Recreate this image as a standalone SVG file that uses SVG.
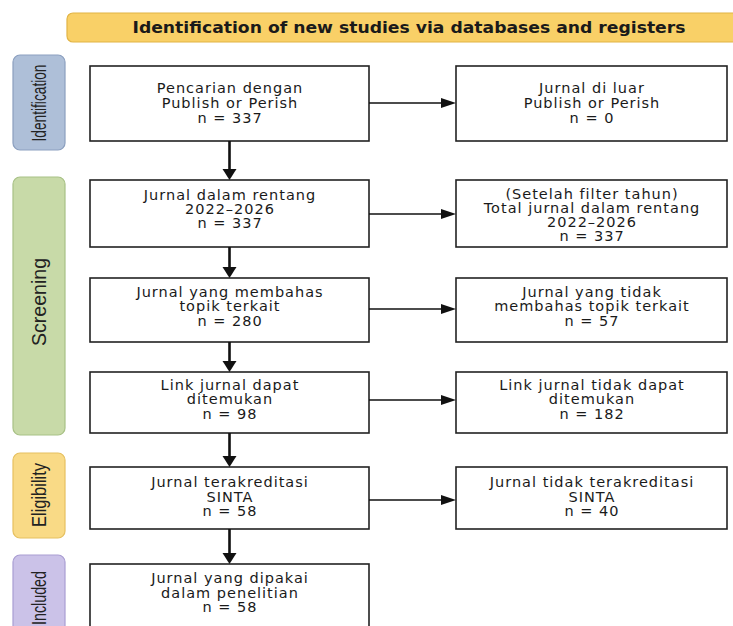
<svg xmlns="http://www.w3.org/2000/svg" width="733" height="626" viewBox="0 0 733 626">
<defs>
<style>
.box{fill:#fff;stroke:#222;stroke-width:1.6}
.t{font-family:"DejaVu Sans","Noto Sans",sans-serif;font-size:14.5px;fill:#1a1a1a;text-anchor:middle;letter-spacing:1px}
.side{font-family:"Liberation Sans",Arial,sans-serif;font-size:20px;fill:#222;text-anchor:middle}
.vline{stroke:#111;stroke-width:2.6;fill:none}
.hline{stroke:#111;stroke-width:1.6;fill:none}
.ah{fill:#111}
</style>
</defs>
<rect width="733" height="626" fill="#fff"/>
<g id="banner">
<rect x="67" y="13" width="680" height="29" rx="6" fill="#f9d067" stroke="#e2b445" stroke-width="1.2"/>
<text x="409" y="33" font-family="DejaVu Sans, sans-serif" font-weight="bold" font-size="15" fill="#1a1a1a" text-anchor="middle" textLength="553" lengthAdjust="spacingAndGlyphs">Identification of new studies via databases and registers</text>
</g>
<g id="phase-identification">
<rect x="13" y="55" width="52" height="95" rx="7" fill="#aebfd8" stroke="#8b9fbf" stroke-width="1.2"/>
<text class="side" transform="translate(46,103) rotate(-90)" textLength="77" lengthAdjust="spacingAndGlyphs">Identification</text>
</g>
<g id="phase-screening">
<rect x="13" y="177" width="52" height="258" rx="7" fill="#c8daa8" stroke="#a8c186" stroke-width="1.2"/>
<text class="side" transform="translate(46,302) rotate(-90)" textLength="88" lengthAdjust="spacingAndGlyphs">Screening</text>
</g>
<g id="phase-eligibility">
<rect x="13" y="453" width="52" height="85" rx="7" fill="#f9da86" stroke="#e6c060" stroke-width="1.2"/>
<text class="side" transform="translate(46,495) rotate(-90)" textLength="64" lengthAdjust="spacingAndGlyphs">Eligibility</text>
</g>
<g id="phase-included">
<rect x="13" y="555" width="52" height="90" rx="7" fill="#cbc2e8" stroke="#a99dd2" stroke-width="1.2"/>
<text class="side" transform="translate(46,598) rotate(-90)" textLength="54" lengthAdjust="spacingAndGlyphs">Included</text>
</g>

<g id="n1">
<rect class="box" x="90" y="66" width="279" height="75"/>
<text class="t" x="230" y="93">Pencarian dengan</text>
<text class="t" x="230" y="108">Publish or Perish</text>
<text class="t" x="230" y="123">n = 337</text>
</g>
<g id="n1r">
<rect class="box" x="456" y="66" width="271" height="75"/>
<text class="t" x="592" y="93">Jurnal di luar</text>
<text class="t" x="592" y="108">Publish or Perish</text>
<text class="t" x="592" y="123">n = 0</text>
</g>
<g id="n2">
<rect class="box" x="90" y="180" width="279" height="67"/>
<text class="t" x="230" y="200">Jurnal dalam rentang</text>
<text class="t" x="230" y="214">2022–2026</text>
<text class="t" x="230" y="228">n = 337</text>
</g>
<g id="n2r">
<rect class="box" x="456" y="180" width="271" height="67"/>
<text class="t" x="592" y="199">(Setelah filter tahun)</text>
<text class="t" x="592" y="213">Total jurnal dalam rentang</text>
<text class="t" x="592" y="227">2022–2026</text>
<text class="t" x="592" y="241">n = 337</text>
</g>
<g id="n3">
<rect class="box" x="90" y="278" width="279" height="64"/>
<text class="t" x="230" y="297">Jurnal yang membahas</text>
<text class="t" x="230" y="311">topik terkait</text>
<text class="t" x="230" y="326">n = 280</text>
</g>
<g id="n3r">
<rect class="box" x="456" y="278" width="271" height="64"/>
<text class="t" x="592" y="297">Jurnal yang tidak</text>
<text class="t" x="592" y="311">membahas topik terkait</text>
<text class="t" x="592" y="326">n = 57</text>
</g>
<g id="n4">
<rect class="box" x="90" y="372" width="279" height="61"/>
<text class="t" x="230" y="390">Link jurnal dapat</text>
<text class="t" x="230" y="404">ditemukan</text>
<text class="t" x="230" y="419">n = 98</text>
</g>
<g id="n4r">
<rect class="box" x="456" y="372" width="271" height="61"/>
<text class="t" x="592" y="390">Link jurnal tidak dapat</text>
<text class="t" x="592" y="404">ditemukan</text>
<text class="t" x="592" y="419">n = 182</text>
</g>
<g id="n5">
<rect class="box" x="90" y="467" width="279" height="62"/>
<text class="t" x="230" y="487">Jurnal terakreditasi</text>
<text class="t" x="230" y="502">SINTA</text>
<text class="t" x="230" y="516">n = 58</text>
</g>
<g id="n5r">
<rect class="box" x="456" y="467" width="271" height="62"/>
<text class="t" x="592" y="487">Jurnal tidak terakreditasi</text>
<text class="t" x="592" y="502">SINTA</text>
<text class="t" x="592" y="516">n = 40</text>
</g>
<g id="n6">
<rect class="box" x="90" y="564" width="279" height="80"/>
<text class="t" x="230" y="583">Jurnal yang dipakai</text>
<text class="t" x="230" y="598">dalam penelitian</text>
<text class="t" x="230" y="612">n = 58</text>
</g>

<g id="connectors">
<path class="vline" d="M229.5 141V170"/><path class="ah" d="M222.5 169h14l-7 11z"/>
<path class="vline" d="M229.5 247V268"/><path class="ah" d="M222.5 267h14l-7 11z"/>
<path class="vline" d="M229.5 342V362"/><path class="ah" d="M222.5 361h14l-7 11z"/>
<path class="vline" d="M229.5 433V457"/><path class="ah" d="M222.5 456h14l-7 11z"/>
<path class="vline" d="M229.5 529V554"/><path class="ah" d="M222.5 553h14l-7 11z"/>
<path class="hline" d="M369 103H443"/><path class="ah" d="M441 98l15 5l-15 5z"/>
<path class="hline" d="M369 214H443"/><path class="ah" d="M441 209l15 5l-15 5z"/>
<path class="hline" d="M369 309H443"/><path class="ah" d="M441 304l15 5l-15 5z"/>
<path class="hline" d="M369 400H443"/><path class="ah" d="M441 395l15 5l-15 5z"/>
<path class="hline" d="M369 500H443"/><path class="ah" d="M441 495l15 5l-15 5z"/>
</g>
</svg>
